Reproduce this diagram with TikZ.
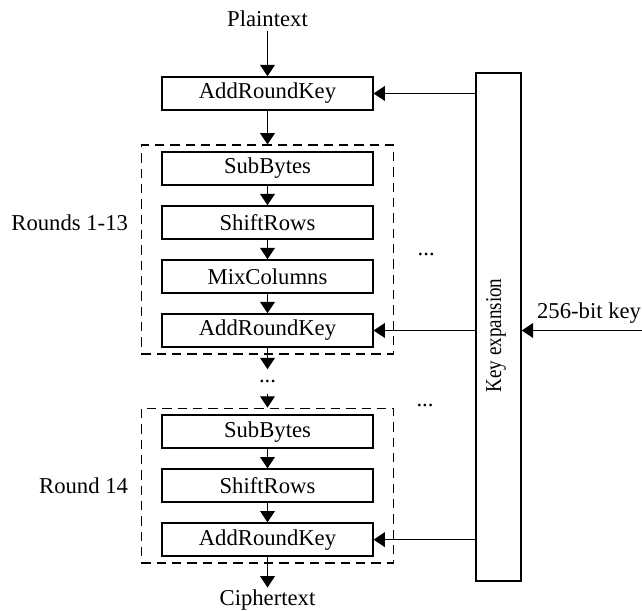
\documentclass[tikz,border=0pt]{standalone}
\usepackage{fontspec}
\setmainfont{Liberation Serif}
\usetikzlibrary{arrows.meta, positioning, fit, calc}

\begin{document}
\begin{tikzpicture}[
    x=0.75pt, y=0.75pt,
    font=\fontsize{17}{20}\selectfont,
    box/.style={draw, rectangle, line width=1.1pt, minimum width=158pt, minimum height=24.75pt, inner sep=0pt},
    roundbox/.style={draw, dash pattern=on 7pt off 4.5pt, line width=1.2pt, inner xsep=15pt, inner ysep=4.5pt},
    arrow/.style={-{Triangle[length=8.5pt, width=11pt]}, line width=1.1pt},
    node distance=14.65pt
]
\useasboundingbox (0,0) rectangle (642,610);

% Initial round
\node[box] (ark0) at (267.5,516.5) {AddRoundKey};
\node[above=33.75pt of ark0] (plain) {Plaintext};
\draw[arrow] (plain) -- (ark0);

% Rounds 1-13
\node[box, below=30.4pt of ark0] (sb1) {SubBytes};
\node[box, below=of sb1] (sr1) {ShiftRows};
\node[box, below=of sr1] (mc1) {MixColumns};
\node[box, below=of mc1] (ark1) {AddRoundKey};
\node[roundbox, fit=(sb1)(ark1)] (r1) {};
\node[anchor=east, xshift=-6pt] (lab1) at (r1.west |- sr1) {Rounds 1-13};
\draw[arrow] (ark0) -- (r1.north);
\draw[arrow] (sb1) -- (sr1);
\draw[arrow] (sr1) -- (mc1);
\draw[arrow] (mc1) -- (ark1);

\node[below=11pt of r1, minimum height=18pt, inner sep=0pt] (dots1) {...};
\node[right=14pt of r1, yshift=-4pt] (dots2) {...};
\draw[arrow] (ark1) -- (dots1);

% Round 14
\node[box, below=15.5pt of dots1] (sb2) {SubBytes};
\node[box, below=of sb2] (sr2) {ShiftRows};
\node[box, below=of sr2] (ark2) {AddRoundKey};
\node[roundbox, fit=(sb2)(ark2)] (r2) {};
\node[anchor=east, xshift=-6pt] (lab2) at (r2.west |- sr2) {Round 14};
\node (dots3) at ($(r2.north east)+(23pt,1.5pt)$) {...};
\draw[arrow] (dots1) -- (r2.north);
\draw[arrow] (sb2) -- (sr2);
\draw[arrow] (sr2) -- (ark2);

\node[below=23pt of ark2, inner ysep=1.5pt] (cipher) {Ciphertext};
\draw[arrow] (ark2) -- (cipher);

% Key schedule
\node[draw, line width=1.1pt, minimum width=33.75pt, minimum height=381pt, inner sep=0pt] (keyx) at (498.5,283) {};
\node[rotate=90] (keylab) at (496,274.5) {\scalebox{0.84}[1]{Key expansion}};
\draw[arrow] (keyx.west |- ark0) -- (ark0);
\draw[arrow] (keyx.west |- ark1) -- (ark1);
\draw[arrow] (keyx.west |- ark2) -- (ark2);

\coordinate (kin) at (642,279.5);
\draw[arrow] (kin) -- (kin -| keyx.east) node[pos=0.44, above=1.5pt] (keyin) {256-bit key};
\end{tikzpicture}
\end{document}
